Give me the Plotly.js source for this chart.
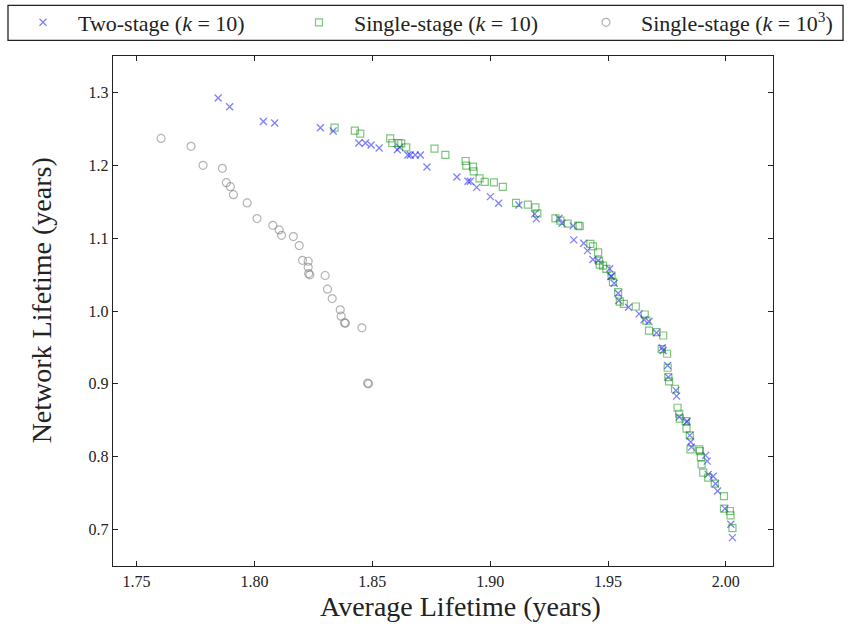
<!DOCTYPE html>
<html>
<head>
<meta charset="utf-8">
<script src="https://cdn.plot.ly/plotly-3.0.1.min.js"></script>
<style>html,body{margin:0;padding:0;background:#fff;}#chart{width:849px;height:628px;}</style>
</head>
<body>
<div id="chart"></div>
<script>
// Two-stage (k = 10)
var twoStageX = [1.7846,1.7895,1.8038,1.8086,1.8280,1.8334,1.8443,1.8471,1.8495,1.8529,1.8606,1.8616,1.8651,1.8661,1.8682,1.8704,1.8732,1.8859,1.8906,1.8916,1.8943,1.9001,1.9036,1.9122,1.9189,1.9196,1.9292,1.9305,1.9352,1.9355,1.9397,1.9413,1.9436,1.9459,1.9507,1.9515,1.9512,1.9526,1.9543,1.9546,1.9587,1.9632,1.9653,1.9674,1.9706,1.9730,1.9734,1.9753,1.9756,1.9788,1.9791,1.9802,1.9833,1.9836,1.9847,1.9851,1.9854,1.9914,1.9921,1.9925,1.9946,1.9956,1.9965,1.9996,2.0021,2.0028];
var twoStageY = [1.2923,1.2804,1.2602,1.2580,1.2516,1.2471,1.2306,1.2306,1.2279,1.2238,1.2214,1.2246,1.2142,1.2142,1.2142,1.2142,1.1977,1.1840,1.1780,1.1780,1.1697,1.1570,1.1478,1.1456,1.1333,1.1264,1.1272,1.1204,1.1168,1.0976,1.0930,1.0829,1.0706,1.0692,1.0579,1.0477,1.0473,1.0381,1.0244,1.0144,1.0052,0.9961,0.9879,0.9856,0.9701,0.9495,0.9458,0.9253,0.9092,0.8910,0.8832,0.8544,0.8475,0.8489,0.8293,0.8201,0.8132,0.8018,0.7940,0.7758,0.7731,0.7630,0.7529,0.7288,0.7072,0.6890];

// Single-stage (k = 10)
var singleStageX = [1.8340,1.8426,1.8449,1.8576,1.8585,1.8610,1.8623,1.8644,1.8764,1.8810,1.8896,1.8899,1.8927,1.8930,1.8955,1.8977,1.9016,1.9054,1.9110,1.9160,1.9192,1.9200,1.9277,1.9298,1.9329,1.9374,1.9380,1.9425,1.9436,1.9458,1.9462,1.9465,1.9479,1.9493,1.9515,1.9521,1.9543,1.9550,1.9567,1.9618,1.9656,1.9663,1.9674,1.9706,1.9734,1.9728,1.9751,1.9753,1.9756,1.9759,1.9784,1.9795,1.9802,1.9805,1.9830,1.9833,1.9847,1.9850,1.9887,1.9890,1.9894,1.9897,1.9904,1.9925,1.9953,1.9992,1.9992,2.0017,2.0020,2.0028];
var singleStageY = [1.2516,1.2475,1.2434,1.2369,1.2306,1.2306,1.2301,1.2246,1.2228,1.2142,1.2059,1.1995,1.1981,1.1917,1.1821,1.1771,1.1766,1.1703,1.1483,1.1460,1.1423,1.1341,1.1272,1.1241,1.1200,1.1172,1.1163,1.0921,1.0888,1.0806,1.0692,1.0637,1.0624,1.0579,1.0487,1.0395,1.0258,1.0130,1.0099,1.0062,0.9952,0.9869,0.9732,0.9709,0.9664,0.9476,0.9413,0.9221,0.9092,0.9033,0.8933,0.8672,0.8590,0.8522,0.8489,0.8385,0.8293,0.8101,0.8101,0.8077,0.7995,0.7895,0.7781,0.7713,0.7630,0.7460,0.7288,0.7255,0.7194,0.7021];

// Single-stage (k = 10^3)
var singleStageK3X = [1.7604,1.7731,1.7782,1.7864,1.7881,1.7898,1.7911,1.7969,1.8011,1.8078,1.8105,1.8115,1.8165,1.8190,1.8204,1.8228,1.8228,1.8230,1.8235,1.8300,1.8310,1.8330,1.8364,1.8368,1.8382,1.8386,1.8456,1.8480,1.8484];
var singleStageK3Y = [1.2369,1.2260,1.1999,1.1958,1.1762,1.1707,1.1597,1.1483,1.1268,1.1176,1.1113,1.1039,1.1021,1.0898,1.0696,1.0683,1.0600,1.0514,1.0496,1.0487,1.0299,1.0171,1.0016,0.9929,0.9838,0.9833,0.9769,0.9010,0.9000];

var xTickVals = [1.75,1.80,1.85,1.90,1.95,2.00];
var yTickVals = [0.7,0.8,0.9,1.0,1.1,1.2,1.3];
var seriesNames = ['Two-stage (<i>k</i> = 10)', 'Single-stage (<i>k</i> = 10)', 'Single-stage (<i>k</i> = 10<sup>3</sup>)'];
var xTitle = 'Average Lifetime (years)';
var yTitle = 'Network Lifetime (years)';

var serif = "Liberation Serif";
var ink = '#222';

var traces = [
  {x: twoStageX, y: twoStageY, mode: 'markers', type: 'scatter', name: seriesNames[0], legend: 'legend',
   marker: {symbol: 'x-thin', size: 7, color: 'rgba(0,0,255,0.5)', line: {width: 1.3, color: 'rgba(0,0,255,0.5)'}}},
  {x: singleStageX, y: singleStageY, mode: 'markers', type: 'scatter', name: seriesNames[1], legend: 'legend2',
   marker: {symbol: 'square-open', size: 7, color: 'rgba(0,140,0,0.5)', line: {width: 1.2}}},
  {x: singleStageK3X, y: singleStageK3Y, mode: 'markers', type: 'scatter', name: seriesNames[2], legend: 'legend3',
   marker: {symbol: 'circle-open', size: 8, color: 'rgba(128,128,128,0.6)', line: {width: 1.2}}}
];

var axisCommon = {
  showline: true, linecolor: ink, linewidth: 1.3, mirror: 'ticks',
  ticks: 'inside', ticklen: 5, tickwidth: 1, tickcolor: ink,
  showgrid: false, zeroline: false, automargin: false,
  tickfont: {family: serif, size: 16, color: ink}
};

function legendAt(xc) {
  return {
    xref: 'container', yref: 'container', x: xc, xanchor: 'left', y: 1 - 22.5/628, yanchor: 'middle',
    borderwidth: 0, bgcolor: 'rgba(0,0,0,0)',
    font: {family: serif, size: 22, color: ink},
    itemwidth: 60
  };
}

var layout = {
  width: 849, height: 628,
  margin: {l: 113, r: 76, t: 56, b: 62, autoexpand: false},
  paper_bgcolor: '#fff', plot_bgcolor: '#fff',
  font: {family: serif, color: ink},
  xaxis: Object.assign({}, axisCommon, {
    range: [1.74, 2.02], tickvals: xTickVals, tickformat: '.2f'
  }),
  yaxis: Object.assign({}, axisCommon, {
    range: [0.65, 1.35], tickvals: yTickVals, tickformat: '.1f'
  }),
  showlegend: true,
  legend: legendAt(8/849),
  legend2: legendAt(284/849),
  legend3: legendAt(571/849),
  annotations: [
    {text: xTitle, xref: 'paper', yref: 'paper', x: 0.527, y: -0.079, xanchor: 'center', yanchor: 'middle',
     showarrow: false, font: {family: serif, size: 28, color: ink}},
    {text: yTitle, xref: 'paper', yref: 'paper', x: -0.109, y: 0.521, xanchor: 'center', yanchor: 'middle',
     textangle: -90, showarrow: false, font: {family: serif, size: 28, color: ink}}
  ],
  shapes: [{
    type: 'rect', xref: 'paper', yref: 'paper', layer: 'below',
    x0: -0.1591, x1: 1.1061, y0: 1.0308, y1: 1.0994,
    line: {color: ink, width: 1.3}, fillcolor: 'rgba(0,0,0,0)'
  }]
};

Plotly.newPlot('chart', traces, layout, {displayModeBar: false, staticPlot: true});
</script>
</body>
</html>
